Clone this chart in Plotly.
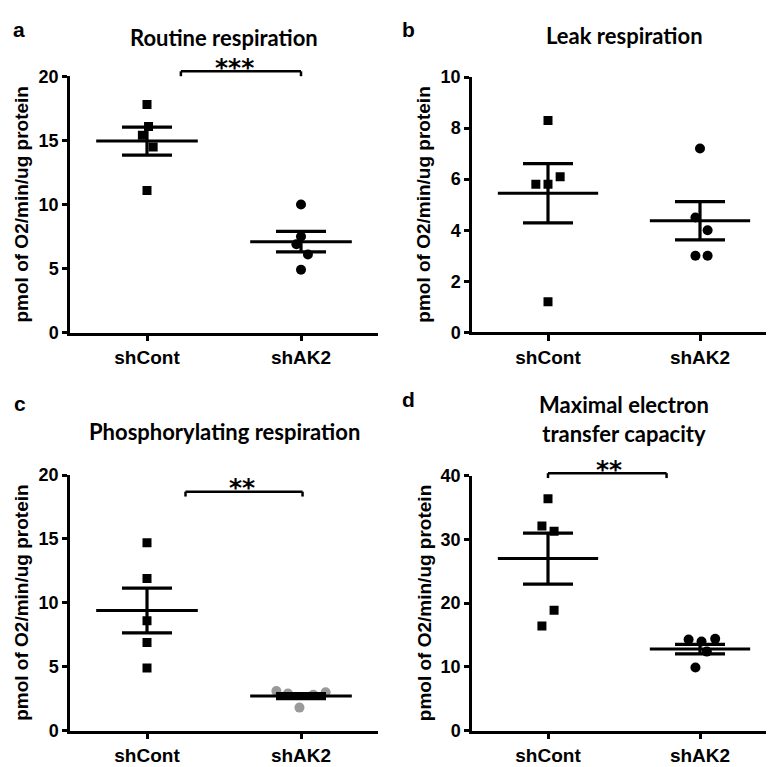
import plotly.graph_objects as go

# ---------------- data ----------------
categories = ["shCont", "shAK2"]
panel_letters = ["a", "b", "c", "d"]
titles = ["Routine respiration", "Leak respiration",
          "Phosphorylating respiration", "Maximal electron<br>transfer capacity"]
y_axis_title = "pmol of O2/min/ug protein"
y_max = [20, 10, 20, 40]
y_dtick = [5, 2, 5, 10]

routine_shcont = [17.8, 16.1, 15.4, 14.5, 11.1]
routine_shak2 = [10.0, 7.5, 6.9, 6.1, 4.9]
leak_shcont = [8.3, 6.1, 5.8, 5.8, 1.2]
leak_shak2 = [7.2, 4.5, 4.0, 3.0, 3.0]
phos_shcont = [14.7, 11.9, 8.6, 6.9, 4.9]
phos_shak2 = [3.1, 2.9, 1.8, 2.8, 3.0]
max_shcont = [36.4, 32.1, 31.3, 18.9, 16.4]
max_shak2 = [14.3, 14.0, 14.4, 12.4, 9.9]

# mean and SEM as drawn
routine_mean = [14.95, 7.1]
routine_sem = [1.1, 0.8]
leak_mean = [5.45, 4.37]
leak_sem = [1.16, 0.75]
phos_mean = [9.4, 2.7]
phos_sem = [1.75, 0.2]
max_mean = [27.0, 12.8]
max_sem = [4.0, 0.75]

# horizontal scatter of points (category units)
routine_shcont_jit = [0, 0.01, -0.03, 0.04, 0]
routine_shak2_jit = [0, 0, -0.03, 0.045, 0]
leak_shcont_jit = [0, 0.08, -0.08, 0, 0]
leak_shak2_jit = [0, -0.03, 0.05, -0.03, 0.05]
phos_shcont_jit = [0, 0, 0, 0, 0]
phos_shak2_jit = [-0.16, -0.085, -0.01, 0.08, 0.16]
max_shcont_jit = [0, -0.04, 0.04, 0.04, -0.04]
max_shak2_jit = [-0.075, 0.01, 0.10, 0.045, -0.03]

# significance brackets (None = none)
sig_labels = ["***", None, "**", "**"]
bracket_y = [20.4, None, 18.7, 40.4]
bracket_x0 = [0.22, None, 0.25, 0.0]
bracket_x1 = [1.0, None, 1.01, 0.78]
star_x = [0.57, None, 0.62, 0.40]

# ---------------- layout geometry ----------------
W, H = 774, 767
panel_px = [  # x0, x1, ytop, ybottom in pixels
    (62, 370, 60, 323),
    (464, 768, 60.7, 322.7),
    (62, 370, 469.3, 731.7),
    (464, 768, 470, 731.7),
]

points = [
    (routine_shcont, routine_shak2, routine_shcont_jit, routine_shak2_jit, routine_mean, routine_sem),
    (leak_shcont, leak_shak2, leak_shcont_jit, leak_shak2_jit, leak_mean, leak_sem),
    (phos_shcont, phos_shak2, phos_shcont_jit, phos_shak2_jit, phos_mean, phos_sem),
    (max_shcont, max_shak2, max_shcont_jit, max_shak2_jit, max_mean, max_sem),
]
point_colors = [["black", "black"], ["black", "black"], ["black", "#9a9a9a"], ["black", "black"]]
symbols = ["square", "circle"]

ARIAL = "Liberation Sans, Arial, sans-serif"
NARROW = "Liberation Sans Narrow, Arial Narrow, Liberation Sans, sans-serif"
TITLEF = "Lato, Carlito, Calibri, sans-serif"

fig = go.Figure()
layout = dict(width=W, height=H, margin=dict(l=0, r=0, t=0, b=0),
              paper_bgcolor="white", plot_bgcolor="white", showlegend=False)
annotations = []
shapes = []

for i in range(4):
    s = "" if i == 0 else str(i + 1)
    xa, ya = "x" + s, "y" + s
    x0, x1, yt, yb = panel_px[i]
    layout["xaxis" + s] = dict(
        domain=[x0 / W, x1 / W], range=[-0.5, 1.5], anchor=ya,
        tickvals=[0, 1], ticktext=categories, showline=True, linewidth=2.5,
        linecolor="black", ticks="outside", ticklen=6, tickwidth=2.5, tickcolor="black",
        showgrid=False, zeroline=False,
        tickfont=dict(family=ARIAL, size=19, color="black", weight="bold"))
    layout["yaxis" + s] = dict(
        domain=[1 - yb / H, 1 - yt / H], range=[0, y_max[i]], dtick=y_dtick[i], anchor=xa,
        showline=True, linewidth=2.5, linecolor="black", ticks="outside", ticklen=5,
        tickwidth=2.5, tickcolor="black", showgrid=False, zeroline=False,
        tickfont=dict(family=NARROW, size=18, color="black", weight="bold"))

    sc, sa, jc, ja, mean, sem = points[i]
    for j, (vals, jit) in enumerate([(sc, jc), (sa, ja)]):
        fig.add_trace(go.Scatter(
            x=[j + d for d in jit], y=vals, mode="markers", xaxis=xa, yaxis=ya,
            marker=dict(symbol=symbols[j], size=9 if j == 0 else 10,
                        color=point_colors[i][j], line=dict(width=0))))
    for j in range(2):
        fig.add_trace(go.Scatter(
            x=[j - 0.33, j + 0.33], y=[mean[j], mean[j]], mode="lines",
            xaxis=xa, yaxis=ya, line=dict(color="black", width=3)))
        fig.add_trace(go.Scatter(
            x=[j], y=[mean[j]], mode="markers", xaxis=xa, yaxis=ya,
            marker=dict(size=1, color="rgba(0,0,0,0)"),
            error_y=dict(type="data", array=[sem[j]], width=25, thickness=3.2, color="black")))

    # y axis title
    annotations.append(dict(text="<b>" + y_axis_title + "</b>", xref=xa + " domain",
                            yref=ya + " domain", x=0, y=0.5, xshift=-48, textangle=-90,
                            showarrow=False, xanchor="center", yanchor="middle",
                            font=dict(family=ARIAL, size=19, color="black")))
    # panel title
    title_y = (20 if i == 0 else 18) if i < 2 else (425 if i == 2 else 412)
    annotations.append(dict(text="<b>" + titles[i] + "</b>", xref=xa + " domain", yref="paper",
                            x=0.5, y=1 - title_y / H, showarrow=False,
                            xanchor="center", yanchor="middle",
                            font=dict(family=TITLEF, size=22, color="black")))
    # panel letter
    letter_y = [12, 12, 396, 392][i]
    letter_x = [3, 392, 4, 392][i]
    annotations.append(dict(text="<b>" + panel_letters[i] + "</b>", xref="paper", yref="paper",
                            x=letter_x / W, y=1 - letter_y / H, showarrow=False,
                            xanchor="left", yanchor="middle",
                            font=dict(family=ARIAL, size=21, color="black")))
    # significance bracket
    if sig_labels[i]:
        by = bracket_y[i] / y_max[i]
        drop = 5 / (yb - yt)
        bx0, bx1 = bracket_x0[i], bracket_x1[i]
        line = dict(color="black", width=2.5)
        shapes.append(dict(type="line", xref=xa, yref=ya + " domain",
                           x0=bx0, x1=bx1, y0=by, y1=by, line=line))
        shapes.append(dict(type="line", xref=xa, yref=ya + " domain",
                           x0=bx0, x1=bx0, y0=by, y1=by - drop, line=line))
        shapes.append(dict(type="line", xref=xa, yref=ya + " domain",
                           x0=bx1, x1=bx1, y0=by, y1=by - drop, line=line))
        annotations.append(dict(text="<b>" + sig_labels[i] + "</b>", xref=xa, yref=ya + " domain",
                                x=star_x[i], y=by, yshift=4, showarrow=False,
                                xanchor="center", yanchor="middle",
                                font=dict(family="DejaVu Sans", size=25, color="black")))

layout["annotations"] = annotations
layout["shapes"] = shapes
fig.update_layout(**layout)
fig.write_html("out.html")
